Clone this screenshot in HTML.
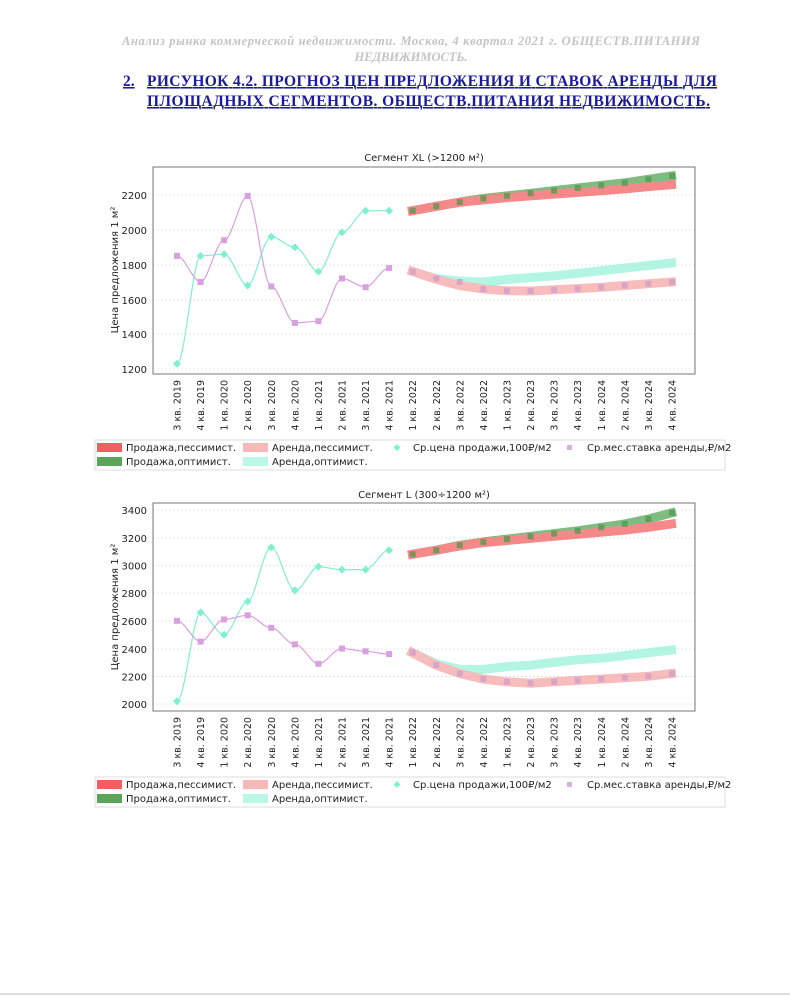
<!DOCTYPE html>
<html><head><meta charset="utf-8"><style>
body{margin:0;background:#fff;}
svg{display:block;}
.t{font-family:"DejaVu Sans","Liberation Sans",sans-serif;font-size:10px;fill:#222;}
.xl{font-family:"DejaVu Sans","Liberation Sans",sans-serif;font-size:9.5px;fill:#222;}
.g{stroke:#ddd;stroke-width:0.8;stroke-dasharray:2,2;}
</style></head><body>
<svg width="790" height="997" viewBox="0 0 790 997" xmlns="http://www.w3.org/2000/svg">
<rect width="790" height="997" fill="#fff"/>
<line x1="0" y1="994" x2="790" y2="994" stroke="#bbb"/>
<g font-family="Liberation Serif,serif" font-style="italic" font-weight="bold" font-size="12.5" fill="#c4c4c4" text-anchor="middle">
<text x="411" y="45" textLength="578">Анализ рынка коммерческой недвижимости.  Москва,  4 квартал 2021 г.  ОБЩЕСТВ.ПИТАНИЯ</text>
<text x="411" y="61">НЕДВИЖИМОСТЬ.</text></g>
<g font-family="Liberation Serif,serif" font-weight="bold" font-size="15.5" fill="#1a1aa0" text-decoration="underline">
<text x="123" y="86">2.</text>
<text x="147" y="86" textLength="570">РИСУНОК 4.2. ПРОГНОЗ ЦЕН ПРЕДЛОЖЕНИЯ И СТАВОК АРЕНДЫ ДЛЯ</text>
<text x="147" y="106" textLength="563">ПЛОЩАДНЫХ СЕГМЕНТОВ.  ОБЩЕСТВ.ПИТАНИЯ НЕДВИЖИМОСТЬ.</text></g>

<!-- Chart 1 -->
<text class="t" x="424" y="161" text-anchor="middle" font-size="11">Сегмент XL (&gt;1200 м²)</text>
<g class="g"><line x1="153" x2="695" y1="195" y2="195"/><line x1="153" x2="695" y1="230" y2="230"/><line x1="153" x2="695" y1="265" y2="265"/><line x1="153" x2="695" y1="300" y2="300"/><line x1="153" x2="695" y1="334" y2="334"/><line x1="153" x2="695" y1="369" y2="369"/></g>
<rect x="153" y="167" width="542" height="207" fill="none" stroke="#777" stroke-width="1"/>
<g class="t" text-anchor="end"><text x="147" y="199">2200</text><text x="147" y="234">2000</text><text x="147" y="269">1800</text><text x="147" y="304">1600</text><text x="147" y="338">1400</text><text x="147" y="373">1200</text></g>
<text class="t" transform="rotate(-90 118 270)" x="118" y="270" text-anchor="middle" font-size="9.5">Цена предложения 1 м²</text>
<g fill="none" stroke-linecap="butt" stroke-linejoin="round" stroke-width="9" opacity="0.6">
<polyline stroke="#2f8f2f" points="408,211.5 436.3,206.3 459.8,202 483.4,198.5 507,195.9 530.6,193.3 554.1,190.6 577.7,188 601.3,185.4 624.8,182.8 648.4,179.3 676,175.3"/>
<polyline stroke="#f03c3c" points="408,211.5 436.3,206.3 459.8,202.3 483.4,199.9 507,197.6 530.6,195.9 554.1,194.1 577.7,192.4 601.3,190.6 624.8,188.9 648.4,186.6 676,184.3"/>
<polyline stroke="#7ff0d0" points="408,270 436.3,278.5 459.8,281.1 483.4,282 507,279.4 530.6,277.6 554.1,275.9 577.7,273.3 601.3,270.7 624.8,268.1 648.4,265.5 676,262.5"/>
<polyline stroke="#f49090" points="408,270 436.3,279.4 459.8,285.5 483.4,289 507,290.7 530.6,291 554.1,289.8 577.7,288.6 601.3,287.2 624.8,285.5 648.4,283.7 676,281.6"/>
</g>
<g fill="#4a9a4a" opacity="0.7"><rect x="409.7" y="207.7" width="6" height="6"/><rect x="433.3" y="203.3" width="6" height="6"/><rect x="456.8" y="199" width="6" height="6"/><rect x="480.4" y="195.5" width="6" height="6"/><rect x="504" y="192.9" width="6" height="6"/><rect x="527.6" y="190.3" width="6" height="6"/><rect x="551.1" y="187.6" width="6" height="6"/><rect x="574.7" y="185" width="6" height="6"/><rect x="598.3" y="182.4" width="6" height="6"/><rect x="621.8" y="179.8" width="6" height="6"/><rect x="645.4" y="176.3" width="6" height="6"/><rect x="669" y="172.9" width="6" height="6"/></g>
<g fill="#d0a0c8" opacity="0.8"><rect x="409.7" y="268.6" width="6" height="6"/><rect x="433.3" y="275.5" width="6" height="6"/><rect x="456.8" y="279" width="6" height="6"/><rect x="480.4" y="286" width="6" height="6"/><rect x="504" y="287.7" width="6" height="6"/><rect x="527.6" y="288" width="6" height="6"/><rect x="551.1" y="286.8" width="6" height="6"/><rect x="574.7" y="285.6" width="6" height="6"/><rect x="598.3" y="284.2" width="6" height="6"/><rect x="621.8" y="282.5" width="6" height="6"/><rect x="645.4" y="280.7" width="6" height="6"/><rect x="669" y="279" width="6" height="6"/></g>
<path fill="none" stroke="#7ff0d0" stroke-width="1.2" d="M177,363.8 C185,363.8 193,255.9 200.6,255.9 C208,255.9 216,254.2 224.1,254.2 C232,254.2 240,285.5 247.7,285.5 C255,285.5 263,236.8 271.3,236.8 C279,236.8 287,247.2 294.9,247.2 C303,247.2 311,271.6 318.4,271.6 C326,271.6 334,232.4 342,232.4 C350,232.4 358,210.7 365.6,210.7 C373,210.7 381,210.7 389.1,210.7"/>
<path fill="none" stroke="#d8a0e0" stroke-width="1.2" d="M177,255.9 C185,255.9 193,282 200.6,282 C208,282 216,240.2 224.1,240.2 C232,240.2 240,195.9 247.7,195.9 C255,195.9 263,286.4 271.3,286.4 C279,286.4 287,322.9 294.9,322.9 C303,322.9 311,321.2 318.4,321.2 C326,321.2 334,278.5 342,278.5 C350,278.5 358,287.2 365.6,287.2 C373,287.2 381,268.1 389.1,268.1"/>
<g fill="#7ff0d0"><path d="M177,359.8l4,4-4,4-4-4z"/><path d="M200.6,251.9l4,4-4,4-4-4z"/><path d="M224.1,250.2l4,4-4,4-4-4z"/><path d="M247.7,281.5l4,4-4,4-4-4z"/><path d="M271.3,232.8l4,4-4,4-4-4z"/><path d="M294.9,243.2l4,4-4,4-4-4z"/><path d="M318.4,267.6l4,4-4,4-4-4z"/><path d="M342,228.4l4,4-4,4-4-4z"/><path d="M365.6,206.7l4,4-4,4-4-4z"/><path d="M389.1,206.7l4,4-4,4-4-4z"/></g>
<g fill="#d8a0e0"><rect x="174" y="252.9" width="6" height="6"/><rect x="197.6" y="279" width="6" height="6"/><rect x="221.1" y="237.2" width="6" height="6"/><rect x="244.7" y="192.9" width="6" height="6"/><rect x="268.3" y="283.4" width="6" height="6"/><rect x="291.9" y="319.9" width="6" height="6"/><rect x="315.4" y="318.2" width="6" height="6"/><rect x="339" y="275.5" width="6" height="6"/><rect x="362.6" y="284.2" width="6" height="6"/><rect x="386.1" y="265.1" width="6" height="6"/></g>
<g class="xl" text-anchor="end">
<text transform="rotate(-90 180.5 380)" x="180.5" y="380">3 кв. 2019</text><text transform="rotate(-90 204.1 380)" x="204.1" y="380">4 кв. 2019</text><text transform="rotate(-90 227.6 380)" x="227.6" y="380">1 кв. 2020</text><text transform="rotate(-90 251.2 380)" x="251.2" y="380">2 кв. 2020</text><text transform="rotate(-90 274.8 380)" x="274.8" y="380">3 кв. 2020</text><text transform="rotate(-90 298.4 380)" x="298.4" y="380">4 кв. 2020</text><text transform="rotate(-90 321.9 380)" x="321.9" y="380">1 кв. 2021</text><text transform="rotate(-90 345.5 380)" x="345.5" y="380">2 кв. 2021</text><text transform="rotate(-90 369.1 380)" x="369.1" y="380">3 кв. 2021</text><text transform="rotate(-90 392.6 380)" x="392.6" y="380">4 кв. 2021</text><text transform="rotate(-90 416.2 380)" x="416.2" y="380">1 кв. 2022</text><text transform="rotate(-90 439.8 380)" x="439.8" y="380">2 кв. 2022</text><text transform="rotate(-90 463.3 380)" x="463.3" y="380">3 кв. 2022</text><text transform="rotate(-90 486.9 380)" x="486.9" y="380">4 кв. 2022</text><text transform="rotate(-90 510.5 380)" x="510.5" y="380">1 кв. 2023</text><text transform="rotate(-90 534.1 380)" x="534.1" y="380">2 кв. 2023</text><text transform="rotate(-90 557.6 380)" x="557.6" y="380">3 кв. 2023</text><text transform="rotate(-90 581.2 380)" x="581.2" y="380">4 кв. 2023</text><text transform="rotate(-90 604.8 380)" x="604.8" y="380">1 кв. 2024</text><text transform="rotate(-90 628.3 380)" x="628.3" y="380">2 кв. 2024</text><text transform="rotate(-90 651.9 380)" x="651.9" y="380">3 кв. 2024</text><text transform="rotate(-90 675.5 380)" x="675.5" y="380">4 кв. 2024</text>
</g>
<rect x="95" y="440" width="630" height="30" fill="none" stroke="#ddd"/>
<rect x="97" y="443" width="25" height="9" fill="#f06060"/><rect x="97" y="457" width="25" height="9" fill="#5aa55a"/>
<rect x="243" y="443" width="25" height="9" fill="#f8b8b8"/><rect x="243" y="457" width="25" height="9" fill="#b8f8e4"/>
<path d="M397,444l3.5,3.5-3.5,3.5-3.5-3.5z" fill="#7ff0d0"/><rect x="567" y="445" width="5" height="5" fill="#d8b0e0"/>
<g class="t" font-size="9.5"><text x="126" y="451">Продажа,пессимист.</text><text x="126" y="465">Продажа,оптимист.</text><text x="272" y="451">Аренда,пессимист.</text><text x="272" y="465">Аренда,оптимист.</text><text x="413" y="451">Ср.цена продажи,100₽/м2</text><text x="587" y="451">Ср.мес.ставка аренды,₽/м2</text></g>

<!-- Chart 2 -->
<text class="t" x="424" y="498" text-anchor="middle" font-size="11">Сегмент L (300÷1200 м²)</text>
<g class="g"><line x1="153" x2="695" y1="510" y2="510"/><line x1="153" x2="695" y1="538" y2="538"/><line x1="153" x2="695" y1="565.5" y2="565.5"/><line x1="153" x2="695" y1="593" y2="593"/><line x1="153" x2="695" y1="621" y2="621"/><line x1="153" x2="695" y1="649" y2="649"/><line x1="153" x2="695" y1="676.5" y2="676.5"/><line x1="153" x2="695" y1="704" y2="704"/></g>
<rect x="153" y="503" width="542" height="208" fill="none" stroke="#777" stroke-width="1"/>
<g class="t" text-anchor="end"><text x="147" y="514">3400</text><text x="147" y="542">3200</text><text x="147" y="569.5">3000</text><text x="147" y="597">2800</text><text x="147" y="625">2600</text><text x="147" y="653">2400</text><text x="147" y="680.5">2200</text><text x="147" y="708">2000</text></g>
<text class="t" transform="rotate(-90 118 607)" x="118" y="607" text-anchor="middle" font-size="9.5">Цена предложения 1 м²</text>
<g fill="none" stroke-linecap="butt" stroke-linejoin="round" stroke-width="9" opacity="0.6">
<polyline stroke="#2f8f2f" points="408,555 436.3,550.2 459.8,545.3 483.4,541.9 507,539.1 530.6,536.3 554.1,533.6 577.7,530.8 601.3,527.3 624.8,523.9 648.4,519 676,511.8"/>
<polyline stroke="#f03c3c" points="408,555 436.3,550.2 459.8,546 483.4,542.6 507,540.5 530.6,538.4 554.1,536.3 577.7,534.3 601.3,532.2 624.8,530.1 648.4,527.3 676,523.3"/>
<polyline stroke="#7ff0d0" points="408,650.5 436.3,663.8 459.8,669.4 483.4,669.4 507,666.6 530.6,665.2 554.1,662.4 577.7,659.7 601.3,658.3 624.8,655.5 648.4,652.7 676,649.5"/>
<polyline stroke="#f49090" points="408,650.5 436.3,665.2 459.8,673.5 483.4,679.1 507,681.8 530.6,683.2 554.1,681.8 577.7,680.4 601.3,679.1 624.8,677.7 648.4,676.3 676,673"/>
</g>
<g fill="#4a9a4a" opacity="0.7"><rect x="409.7" y="551.3" width="6" height="6"/><rect x="433.3" y="547.2" width="6" height="6"/><rect x="456.8" y="542.3" width="6" height="6"/><rect x="480.4" y="538.9" width="6" height="6"/><rect x="504" y="536.1" width="6" height="6"/><rect x="527.6" y="533.3" width="6" height="6"/><rect x="551.1" y="530.6" width="6" height="6"/><rect x="574.7" y="527.8" width="6" height="6"/><rect x="598.3" y="524.3" width="6" height="6"/><rect x="621.8" y="520.9" width="6" height="6"/><rect x="645.4" y="516" width="6" height="6"/><rect x="669" y="509.8" width="6" height="6"/></g>
<g fill="#d0a0c8" opacity="0.8"><rect x="409.7" y="649.7" width="6" height="6"/><rect x="433.3" y="662.2" width="6" height="6"/><rect x="456.8" y="670.5" width="6" height="6"/><rect x="480.4" y="676.1" width="6" height="6"/><rect x="504" y="678.8" width="6" height="6"/><rect x="527.6" y="680.2" width="6" height="6"/><rect x="551.1" y="678.8" width="6" height="6"/><rect x="574.7" y="677.4" width="6" height="6"/><rect x="598.3" y="676.1" width="6" height="6"/><rect x="621.8" y="674.7" width="6" height="6"/><rect x="645.4" y="673.3" width="6" height="6"/><rect x="669" y="670.5" width="6" height="6"/></g>
<path fill="none" stroke="#7ff0d0" stroke-width="1.2" d="M177,701.2 C185,701.2 193,612.5 200.6,612.5 C208,612.5 216,634.7 224.1,634.7 C232,634.7 240,601.5 247.7,601.5 C255,601.5 263,547.4 271.3,547.4 C279,547.4 287,590.4 294.9,590.4 C303,590.4 311,566.8 318.4,566.8 C326,566.8 334,569.6 342,569.6 C350,569.6 358,569.6 365.6,569.6 C373,569.6 381,550.2 389.1,550.2"/>
<path fill="none" stroke="#d8a0e0" stroke-width="1.2" d="M177,620.9 C185,620.9 193,641.6 200.6,641.6 C208,641.6 216,619.5 224.1,619.5 C232,619.5 240,615.3 247.7,615.3 C255,615.3 263,627.8 271.3,627.8 C279,627.8 287,644.4 294.9,644.4 C303,644.4 311,663.8 318.4,663.8 C326,663.8 334,648.6 342,648.6 C350,648.6 358,651.3 365.6,651.3 C373,651.3 381,654.1 389.1,654.1"/>
<g fill="#7ff0d0"><path d="M177,697.2l4,4-4,4-4-4z"/><path d="M200.6,608.5l4,4-4,4-4-4z"/><path d="M224.1,630.7l4,4-4,4-4-4z"/><path d="M247.7,597.5l4,4-4,4-4-4z"/><path d="M271.3,543.4l4,4-4,4-4-4z"/><path d="M294.9,586.4l4,4-4,4-4-4z"/><path d="M318.4,562.8l4,4-4,4-4-4z"/><path d="M342,565.6l4,4-4,4-4-4z"/><path d="M365.6,565.6l4,4-4,4-4-4z"/><path d="M389.1,546.2l4,4-4,4-4-4z"/></g>
<g fill="#d8a0e0"><rect x="174" y="617.9" width="6" height="6"/><rect x="197.6" y="638.6" width="6" height="6"/><rect x="221.1" y="616.5" width="6" height="6"/><rect x="244.7" y="612.3" width="6" height="6"/><rect x="268.3" y="624.8" width="6" height="6"/><rect x="291.9" y="641.4" width="6" height="6"/><rect x="315.4" y="660.8" width="6" height="6"/><rect x="339" y="645.6" width="6" height="6"/><rect x="362.6" y="648.3" width="6" height="6"/><rect x="386.1" y="651.1" width="6" height="6"/></g>
<g class="xl" text-anchor="end">
<text transform="rotate(-90 180.5 717)" x="180.5" y="717">3 кв. 2019</text><text transform="rotate(-90 204.1 717)" x="204.1" y="717">4 кв. 2019</text><text transform="rotate(-90 227.6 717)" x="227.6" y="717">1 кв. 2020</text><text transform="rotate(-90 251.2 717)" x="251.2" y="717">2 кв. 2020</text><text transform="rotate(-90 274.8 717)" x="274.8" y="717">3 кв. 2020</text><text transform="rotate(-90 298.4 717)" x="298.4" y="717">4 кв. 2020</text><text transform="rotate(-90 321.9 717)" x="321.9" y="717">1 кв. 2021</text><text transform="rotate(-90 345.5 717)" x="345.5" y="717">2 кв. 2021</text><text transform="rotate(-90 369.1 717)" x="369.1" y="717">3 кв. 2021</text><text transform="rotate(-90 392.6 717)" x="392.6" y="717">4 кв. 2021</text><text transform="rotate(-90 416.2 717)" x="416.2" y="717">1 кв. 2022</text><text transform="rotate(-90 439.8 717)" x="439.8" y="717">2 кв. 2022</text><text transform="rotate(-90 463.3 717)" x="463.3" y="717">3 кв. 2022</text><text transform="rotate(-90 486.9 717)" x="486.9" y="717">4 кв. 2022</text><text transform="rotate(-90 510.5 717)" x="510.5" y="717">1 кв. 2023</text><text transform="rotate(-90 534.1 717)" x="534.1" y="717">2 кв. 2023</text><text transform="rotate(-90 557.6 717)" x="557.6" y="717">3 кв. 2023</text><text transform="rotate(-90 581.2 717)" x="581.2" y="717">4 кв. 2023</text><text transform="rotate(-90 604.8 717)" x="604.8" y="717">1 кв. 2024</text><text transform="rotate(-90 628.3 717)" x="628.3" y="717">2 кв. 2024</text><text transform="rotate(-90 651.9 717)" x="651.9" y="717">3 кв. 2024</text><text transform="rotate(-90 675.5 717)" x="675.5" y="717">4 кв. 2024</text>
</g>
<rect x="95" y="777" width="630" height="30" fill="none" stroke="#ddd"/>
<rect x="97" y="780" width="25" height="9" fill="#f06060"/><rect x="97" y="794" width="25" height="9" fill="#5aa55a"/>
<rect x="243" y="780" width="25" height="9" fill="#f8b8b8"/><rect x="243" y="794" width="25" height="9" fill="#b8f8e4"/>
<path d="M397,781l3.5,3.5-3.5,3.5-3.5-3.5z" fill="#7ff0d0"/><rect x="567" y="782" width="5" height="5" fill="#d8b0e0"/>
<g class="t" font-size="9.5"><text x="126" y="788">Продажа,пессимист.</text><text x="126" y="802">Продажа,оптимист.</text><text x="272" y="788">Аренда,пессимист.</text><text x="272" y="802">Аренда,оптимист.</text><text x="413" y="788">Ср.цена продажи,100₽/м2</text><text x="587" y="788">Ср.мес.ставка аренды,₽/м2</text></g>
</svg>
</body></html>
